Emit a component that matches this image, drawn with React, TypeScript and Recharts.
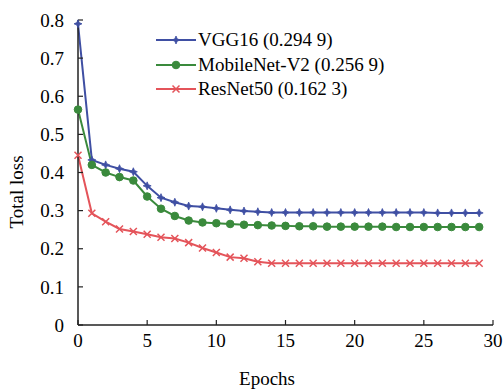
import React from 'react';
import { LineChart, Line, XAxis, YAxis, Legend } from 'recharts';

const epochs = [0, 1, 2, 3, 4, 5, 6, 7, 8, 9, 10, 11, 12, 13, 14, 15, 16, 17, 18, 19, 20, 21, 22, 23, 24, 25, 26, 27, 28, 29];
const vgg16 = [0.79, 0.433, 0.42, 0.41, 0.402, 0.365, 0.334, 0.322, 0.312, 0.31, 0.306, 0.302, 0.299, 0.297, 0.295, 0.295, 0.295, 0.295, 0.295, 0.295, 0.295, 0.295, 0.295, 0.295, 0.295, 0.295, 0.294, 0.294, 0.294, 0.294];
const mobileNet = [0.565, 0.42, 0.4, 0.388, 0.379, 0.337, 0.305, 0.286, 0.274, 0.269, 0.267, 0.265, 0.263, 0.262, 0.261, 0.26, 0.259, 0.259, 0.258, 0.258, 0.258, 0.258, 0.258, 0.257, 0.257, 0.257, 0.257, 0.257, 0.257, 0.257];
const resNet = [0.445, 0.293, 0.271, 0.252, 0.245, 0.238, 0.23, 0.227, 0.216, 0.202, 0.19, 0.178, 0.175, 0.166, 0.162, 0.162, 0.162, 0.162, 0.162, 0.162, 0.162, 0.162, 0.162, 0.162, 0.162, 0.162, 0.162, 0.162, 0.162, 0.162];
const seriesNames = ['VGG16 (0.294 9)', 'MobileNet-V2 (0.256 9)', 'ResNet50 (0.162 3)'];
const xTicks = [0, 5, 10, 15, 20, 25, 30];
const yTicks = [0, 0.1, 0.2, 0.3, 0.4, 0.5, 0.6, 0.7, 0.8];

const BLUE = '#3f4fa3';
const GREEN = '#3a8a3c';
const RED = '#e4545a';
const FONT = 'Liberation Serif';

const data = epochs.map((e, i) => ({ epoch: e, vgg: vgg16[i], mobile: mobileNet[i], resnet: resNet[i] }));

const Star = ({ cx, cy }: any) => {
  const o = 4, n = 1.2;
  const pts = [
    [cx, cy - o], [cx + n, cy - n], [cx + o, cy], [cx + n, cy + n],
    [cx, cy + o], [cx - n, cy + n], [cx - o, cy], [cx - n, cy - n],
  ].map(p => p.join(',')).join(' ');
  return <polygon points={pts} fill={BLUE} stroke={BLUE} strokeWidth={0.8} />;
};

const Circle = ({ cx, cy }: any) => <circle cx={cx} cy={cy} r={3.8} fill={GREEN} stroke={GREEN} />;

const Cross = ({ cx, cy }: any) => (
  <path d={`M${cx - 3.5},${cy - 3.5}L${cx + 3.5},${cy + 3.5}M${cx - 3.5},${cy + 3.5}L${cx + 3.5},${cy - 3.5}`} stroke={RED} strokeWidth={1.5} />
);

const markers = [
  { color: BLUE, Mark: Star },
  { color: GREEN, Mark: Circle },
  { color: RED, Mark: Cross },
];

const LegendBox = () => (
  <div style={{ fontFamily: FONT, fontSize: 19, color: '#000' }}>
    {seriesNames.map((name, i) => {
      const { color, Mark } = markers[i];
      return (
        <div key={name} style={{ display: 'flex', alignItems: 'center', height: 24.5 }}>
          <svg width={43} height={20}>
            <line x1={1} x2={41} y1={10} y2={10} stroke={color} strokeWidth={2} />
            <Mark cx={21} cy={10} />
          </svg>
          <span style={{ whiteSpace: 'nowrap' }}>{name}</span>
        </div>
      );
    })}
  </div>
);

const XTick = ({ x, y, payload }: any) => (
  <text x={x} y={y} dy="0.71em" textAnchor="middle" fill="#000" style={{ fontFamily: FONT, fontSize: 19 }}>
    {payload.value}
  </text>
);

const YTick = ({ x, y, payload }: any) => (
  <text x={x} y={y} dy="0.35em" textAnchor="end" fill="#000" style={{ fontFamily: FONT, fontSize: 19 }}>
    {payload.value === 0 ? '0' : Number(payload.value).toFixed(1)}
  </text>
);

export default function App() {
  return (
    <div style={{ position: 'absolute', left: 0, top: 0, background: '#fff', fontFamily: FONT }}>
      <LineChart width={504} height={389} data={data} margin={{ top: 20, right: 11, bottom: 0, left: 0 }}>
        <XAxis
          dataKey="epoch"
          type="number"
          domain={[0, 30]}
          ticks={xTicks}
          tickSize={-5}
          tickMargin={14}
          height={64}
          axisLine={{ stroke: '#222', strokeWidth: 1.5 }}
          tickLine={{ stroke: '#222', strokeWidth: 1.2 }}
          tick={<XTick />}
          label={{
            content: () => (
              <text x={267} y={378} textAnchor="middle" dominantBaseline="central" fill="#000" style={{ fontFamily: FONT, fontSize: 19 }}>
                Epochs
              </text>
            ),
          }}
        />
        <XAxis xAxisId="top" orientation="top" type="number" domain={[0, 30]} height={0} tick={false} tickLine={false} axisLine={{ stroke: '#222', strokeWidth: 1.5 }} />
        <YAxis
          type="number"
          domain={[0, 0.8]}
          ticks={yTicks}
          tickSize={-5}
          tickMargin={19}
          width={78}
          axisLine={{ stroke: '#222', strokeWidth: 1.5 }}
          tickLine={{ stroke: '#222', strokeWidth: 1.2 }}
          tick={<YTick />}
          label={{
            content: () => (
              <text x={16} y={192} transform="rotate(-90, 16, 192)" textAnchor="middle" dominantBaseline="central" fill="#000" style={{ fontFamily: FONT, fontSize: 19 }}>
                Total loss
              </text>
            ),
          }}
        />
        <YAxis yAxisId="right" orientation="right" type="number" domain={[0, 0.8]} width={0} tick={false} tickLine={false} axisLine={{ stroke: '#222', strokeWidth: 1.5 }} />
        <Legend
          layout="vertical"
          align="center"
          verticalAlign="middle"
          content={<LegendBox />}
          wrapperStyle={{ position: 'absolute', left: 155, top: 28, width: 'auto' }}
        />
        <Line dataKey="vgg" stroke={BLUE} strokeWidth={2} dot={(p: any) => <Star key={p.index} cx={p.cx} cy={p.cy} />} isAnimationActive={false} />
        <Line dataKey="mobile" stroke={GREEN} strokeWidth={2} dot={(p: any) => <Circle key={p.index} cx={p.cx} cy={p.cy} />} isAnimationActive={false} />
        <Line dataKey="resnet" stroke={RED} strokeWidth={2} dot={(p: any) => <Cross key={p.index} cx={p.cx} cy={p.cy} />} isAnimationActive={false} />
      </LineChart>
    </div>
  );
}
